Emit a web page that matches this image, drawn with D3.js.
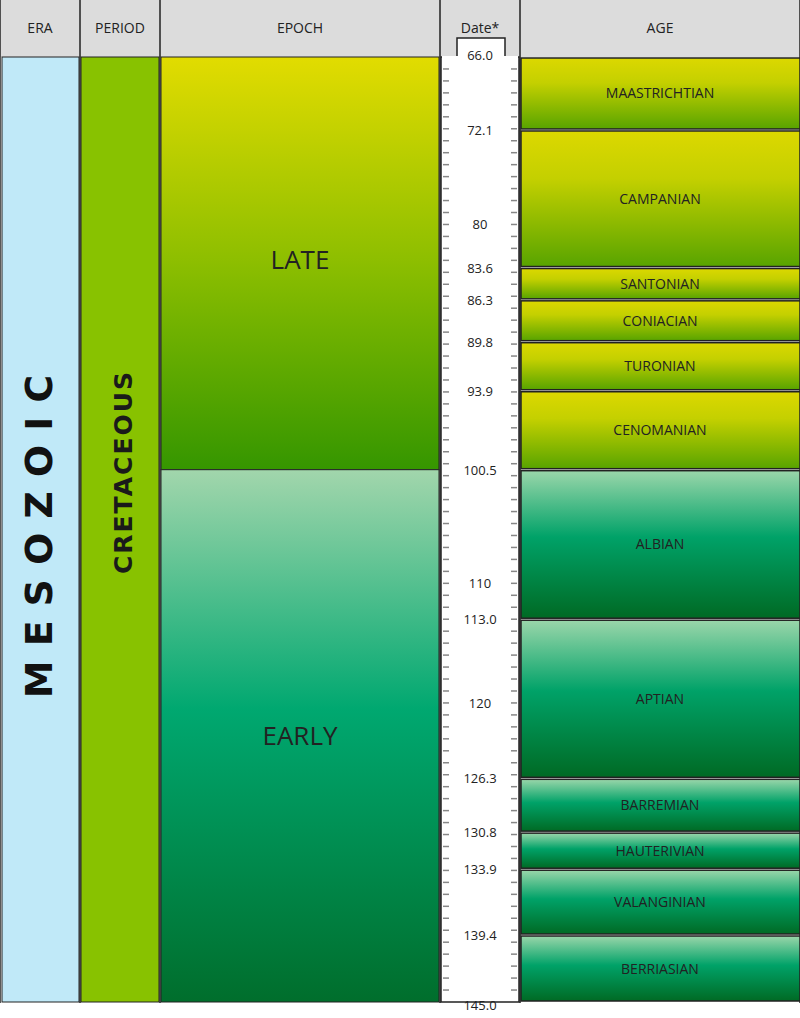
<!DOCTYPE html><html><head><meta charset="utf-8"><script src="https://cdn.jsdelivr.net/npm/d3@7"></script>
<style>body{margin:0;background:#fff}</style></head><body><svg id="c" width="800" height="1018"></svg>
<script>
const headers=["ERA","PERIOD","EPOCH","Date*","AGE"];
const ages=["MAASTRICHTIAN","CAMPANIAN","SANTONIAN","CONIACIAN","TURONIAN","CENOMANIAN","ALBIAN","APTIAN","BARREMIAN","HAUTERIVIAN","VALANGINIAN","BERRIASIAN"];
const ageStarts=[66.0,72.1,83.6,86.3,89.8,93.9,100.5,113.0,126.3,130.8,133.9,139.4];
const ageEnds=[72.1,83.6,86.3,89.8,93.9,100.5,113.0,126.3,130.8,133.9,139.4,145.0];
const epochs=["LATE","EARLY"];
const epochStarts=[66.0,100.5];
const epochEnds=[100.5,145.0];
const dateLabels=["66.0","72.1","80","83.6","86.3","89.8","93.9","100.5","110","113.0","120","126.3","130.8","133.9","139.4","145.0"];

const svg=d3.select("#c");
const y=d3.scaleLinear().domain([66,145]).range([57,1002]);
const cols=[0,80,160,440,520,800];
const x=d3.scaleOrdinal().domain(headers).range(cols.slice(0,5));
const defs=svg.append("defs");
function grad(id,stops){const g=defs.append("linearGradient").attr("id",id).attr("x1",0).attr("x2",0).attr("y1",0).attr("y2",1);
stops.forEach(([o,c])=>g.append("stop").attr("offset",o).attr("stop-color",c));}
grad("late",[[0,"#e2dc00"],[0.5,"#8cbe00"],[1,"#359600"]]);
grad("early",[[0,"#a2d6ac"],[0.45,"#00a870"],[1,"#006e2c"]]);
grad("lateAge",[[0,"#dcd800"],[0.35,"#c4d000"],[1,"#58a400"]]);
grad("earlyAge",[[0,"#9ad6aa"],[0.45,"#00a268"],[1,"#006a24"]]);

// header
svg.append("rect").attr("x",0).attr("y",0).attr("width",800).attr("height",57).attr("fill","#dcdcdc");
headers.forEach((h,i)=>{
 svg.append("text").attr("x",(cols[i]+cols[i+1])/2).attr("y",i==3?33:33).attr("text-anchor","middle")
 .attr("font-family","Open Sans, sans-serif").attr("font-size",14).attr("fill","#222").text(h);
});
cols.forEach(c=>svg.append("line").attr("x1",c).attr("x2",c).attr("y1",0).attr("y2",1003).attr("stroke","#222").attr("stroke-width",1.5));
// era
svg.append("rect").attr("x",2).attr("y",y(66)).attr("width",77).attr("height",y(145)-y(66)).attr("fill","#c0e9f8").attr("stroke","#222");
svg.append("text").attr("transform",`translate(52,${(y(66)+y(145))/2}) rotate(-90)`).attr("text-anchor","middle")
 .attr("font-family","DejaVu Sans, sans-serif").attr("font-weight","bold").attr("font-size",38).attr("letter-spacing",14).attr("fill","#111").text("MESOZOIC");
// period
svg.append("rect").attr("x",81).attr("y",y(66)).attr("width",78).attr("height",y(145)-y(66)).attr("fill","#88c200").attr("stroke","#222");
svg.append("text").attr("transform",`translate(132,472) rotate(-90)`).attr("text-anchor","middle")
 .attr("font-family","DejaVu Sans, sans-serif").attr("font-weight","bold").attr("font-size",25).attr("letter-spacing",2).attr("fill","#1a1a1a").text("CRETACEOUS");
// epochs
epochs.forEach((e,i)=>{
 svg.append("rect").attr("x",161).attr("y",y(epochStarts[i])).attr("width",278).attr("height",y(epochEnds[i])-y(epochStarts[i]))
  .attr("fill",`url(#${i?"early":"late"})`).attr("stroke","#222");
 svg.append("text").attr("x",300).attr("y",i?745:269).attr("text-anchor","middle").attr("font-family","Open Sans, sans-serif")
  .attr("font-size",26).attr("fill","#222").text(e);
});
// ages
ages.forEach((a,i)=>{
 const y0=y(ageStarts[i]),y1=y(ageEnds[i]);
 svg.append("rect").attr("x",521).attr("y",y0+1).attr("width",279).attr("height",y1-y0-2)
  .attr("fill",`url(#${ageStarts[i]<100?"lateAge":"earlyAge"})`).attr("stroke","#222").attr("stroke-width",1.5);
 svg.append("text").attr("x",660).attr("y",(y0+y1)/2+5).attr("text-anchor","middle").attr("font-family","Open Sans, sans-serif")
  .attr("font-size",14).attr("fill","#222").text(a);
});
// date column
svg.append("path").attr("d",`M441,${y(66)} L457,${y(66)} L457,38 L505,38 L505,${y(66)} L519,${y(66)} L519,1002 L441,1002 Z`).attr("fill","#fff").attr("stroke","#222").attr("stroke-width",1.5);
svg.append("rect").attr("x",442).attr("y",y(66)-1).attr("width",76).attr("height",3).attr("fill","#fff");
svg.append("rect").attr("x",458).attr("y",y(66)-2).attr("width",46).attr("height",4).attr("fill","#fff");
d3.range(67,145).forEach(t=>{
 [[443,449],[511,517]].forEach(([a,b])=>svg.append("line").attr("x1",a).attr("x2",b).attr("y1",y(t)).attr("y2",y(t)).attr("stroke","#888").attr("stroke-width",1.5));
});
dateLabels.forEach(d=>{
 const v=+d;
 svg.append("text").attr("x",480).attr("y",y(v)+(v==66?3:v==145?8:5)).attr("text-anchor","middle").attr("font-family","Open Sans, sans-serif")
  .attr("font-size",13).attr("fill","#222").text(d);
});
</script></body></html>
